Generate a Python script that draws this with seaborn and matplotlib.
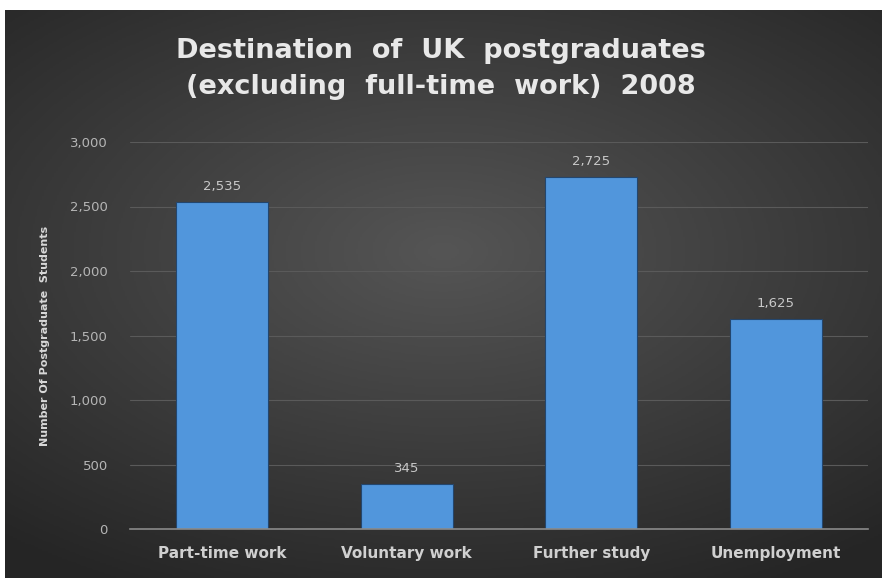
import matplotlib.pyplot as plt
import numpy as np
import pandas as pd
import seaborn as sns

categories = ["Part-time work", "Voluntary work", "Further study", "Unemployment"]
students = [2535, 345, 2725, 1625]
title = "Destination  of  UK  postgraduates\n(excluding  full-time  work)  2008"
ylab = "Number Of Postgraduate  Students"

df = pd.DataFrame({"dest": categories, "n": students})

sns.set_style("dark")
plt.rcParams["font.family"] = ["DejaVu Sans"]

fig = plt.figure(figsize=(8.82, 5.78), dpi=100)
fig.patch.set_facecolor("white")

# dark radial background panel
bg = fig.add_axes([5 / 882, 0, 877 / 882, 568 / 578])
yy, xx = np.mgrid[-1:1:300j, -1:1:450j]
r = np.sqrt((xx / 1.1) ** 2 + ((yy + 0.15) / 0.95) ** 2)
bg.imshow(r, cmap=sns.dark_palette("#555555", as_cmap=True, reverse=True),
          vmin=0, vmax=1.4, aspect="auto", extent=[0, 1, 0, 1])
bg.axis("off")

ax = fig.add_axes([130 / 882, 49 / 578, 738 / 882, 387 / 578])
ax.patch.set_alpha(0)
sns.barplot(data=df, x="dest", y="n", color="#5196dc", width=0.5,
            saturation=1, edgecolor="#23466e", linewidth=0.8, ax=ax)
ax.set_ylim(0, 3000)
ax.set_xlim(-0.5, 3.5)
ax.set_yticks(range(0, 3001, 500))
ax.set_yticklabels([f"{v:,}" for v in range(0, 3001, 500)])
ax.grid(axis="y", color="#5a5a5a", lw=0.8)
ax.set_axisbelow(True)
for s in ["top", "right", "left"]:
    ax.spines[s].set_visible(False)
ax.spines["bottom"].set_color("#8a8a8a")
ax.spines["bottom"].set_linewidth(1.2)
ax.tick_params(axis="y", colors="#b5b5b5", labelsize=9.5, length=0, pad=16)
ax.tick_params(axis="x", colors="#d0d0d0", labelsize=11, length=0, pad=12)
for t in ax.get_xticklabels():
    t.set_fontweight("bold")
ax.set_xlabel("")
ax.set_ylabel(ylab, color="#d8d8d8", fontsize=8, fontweight="bold", labelpad=14)

for i, v in enumerate(students):
    ax.text(i, v + 70, f"{v:,}", ha="center", va="bottom", color="#c8c8c8", fontsize=9.5)

fig.text(0.5, 0.88, title, ha="center", va="center", color="#e8e8e8",
         fontsize=19.5, fontweight="bold", linespacing=1.5)

plt.savefig("out.png", dpi=100)
